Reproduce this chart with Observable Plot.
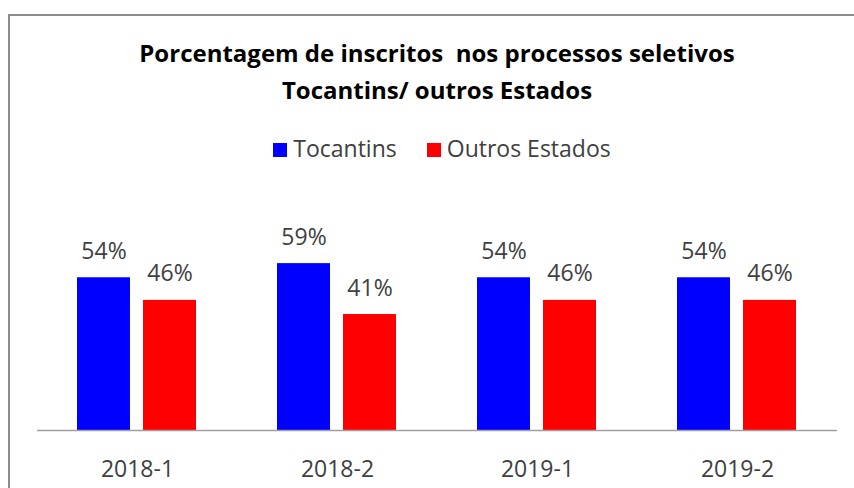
<!DOCTYPE html>
<html>
<head>
<meta charset="utf-8">
<script src="https://cdn.jsdelivr.net/npm/d3@7"></script>
<script src="https://cdn.jsdelivr.net/npm/@observablehq/plot@0.6"></script>
<style>
  html, body { margin: 0; padding: 0; background: #fff; overflow: hidden; }
  body { width: 854px; height: 488px; position: relative; font-family: "Open Sans", sans-serif; }
  .frame { position: absolute; left: 8px; top: 14px; width: 900px; height: 600px;
           border-top: 2px solid #8c8c8c; border-left: 2px solid #8c8c8c; pointer-events: none; }
  .title { box-sizing: border-box; width: 854px; height: 108px; padding: 34px 0 0 20px; margin: 0;
           text-align: center; font-weight: bold; font-size: 24px; line-height: 37px; color: #000; white-space: pre; }
  .legend { box-sizing: border-box; width: 854px; height: 30px; margin-top: 25px; padding-left: 30px;
            text-align: center; font-size: 23px; line-height: 30px; color: #404040; white-space: nowrap; }
  .legend .item { display: inline-block; }
  .legend .item + .item { margin-left: 30px; }
  .legend .sw { display: inline-block; width: 14px; height: 14px; margin-right: 6px; }
  #chart svg { display: block; }
</style>
</head>
<body>
<div class="frame"></div>
<div class="title" id="title"></div>
<div class="legend" id="legend"></div>
<div id="chart"></div>
<script>
const titleLines = ["Porcentagem de inscritos  nos processos seletivos", "Tocantins/ outros Estados"];
const periodos = ["2018-1", "2018-2", "2019-1", "2019-2"];
const series = ["Tocantins", "Outros Estados"];
const cores = ["#0000ff", "#ff0000"];
const tocantins = [54, 59, 54, 54];
const outrosEstados = [46, 41, 46, 46];

const data = [];
periodos.forEach((p, i) => {
  data.push({periodo: p, serie: series[0], valor: tocantins[i]});
  data.push({periodo: p, serie: series[1], valor: outrosEstados[i]});
});

document.getElementById("title").textContent = titleLines.join("\n");

const legend = document.getElementById("legend");
series.forEach((s, i) => {
  const item = document.createElement("span");
  item.className = "item";
  const sw = document.createElement("span");
  sw.className = "sw";
  sw.style.background = cores[i];
  item.appendChild(sw);
  item.appendChild(document.createTextNode(s));
  legend.appendChild(item);
});

const plot = Plot.plot({
  width: 854,
  height: 325,
  marginLeft: 37,
  marginRight: 17,
  marginTop: 69,
  marginBottom: 58,
  style: {fontFamily: "Open Sans", fontSize: "23px", color: "#404040", background: "transparent", overflow: "visible"},
  fx: {domain: periodos, padding: 0, label: null, tickSize: 0, tickPadding: 30, axis: "bottom"},
  x: {domain: series, paddingInner: 0.194, paddingOuter: 0.59, axis: null},
  y: {domain: [0, 70], axis: null},
  color: {domain: series, range: cores},
  marks: [
    Plot.barY(data, {fx: "periodo", x: "serie", y: "valor", fill: "serie"}),
    Plot.text(data, {fx: "periodo", x: "serie", y: "valor", text: d => d.valor + "%",
      lineAnchor: "bottom", dy: -19, fill: "#404040", fontSize: 23}),
    Plot.ruleY([0], {stroke: "#a0a0a0", strokeWidth: 1.5})
  ]
});
document.getElementById("chart").appendChild(plot);
</script>
</body>
</html>
